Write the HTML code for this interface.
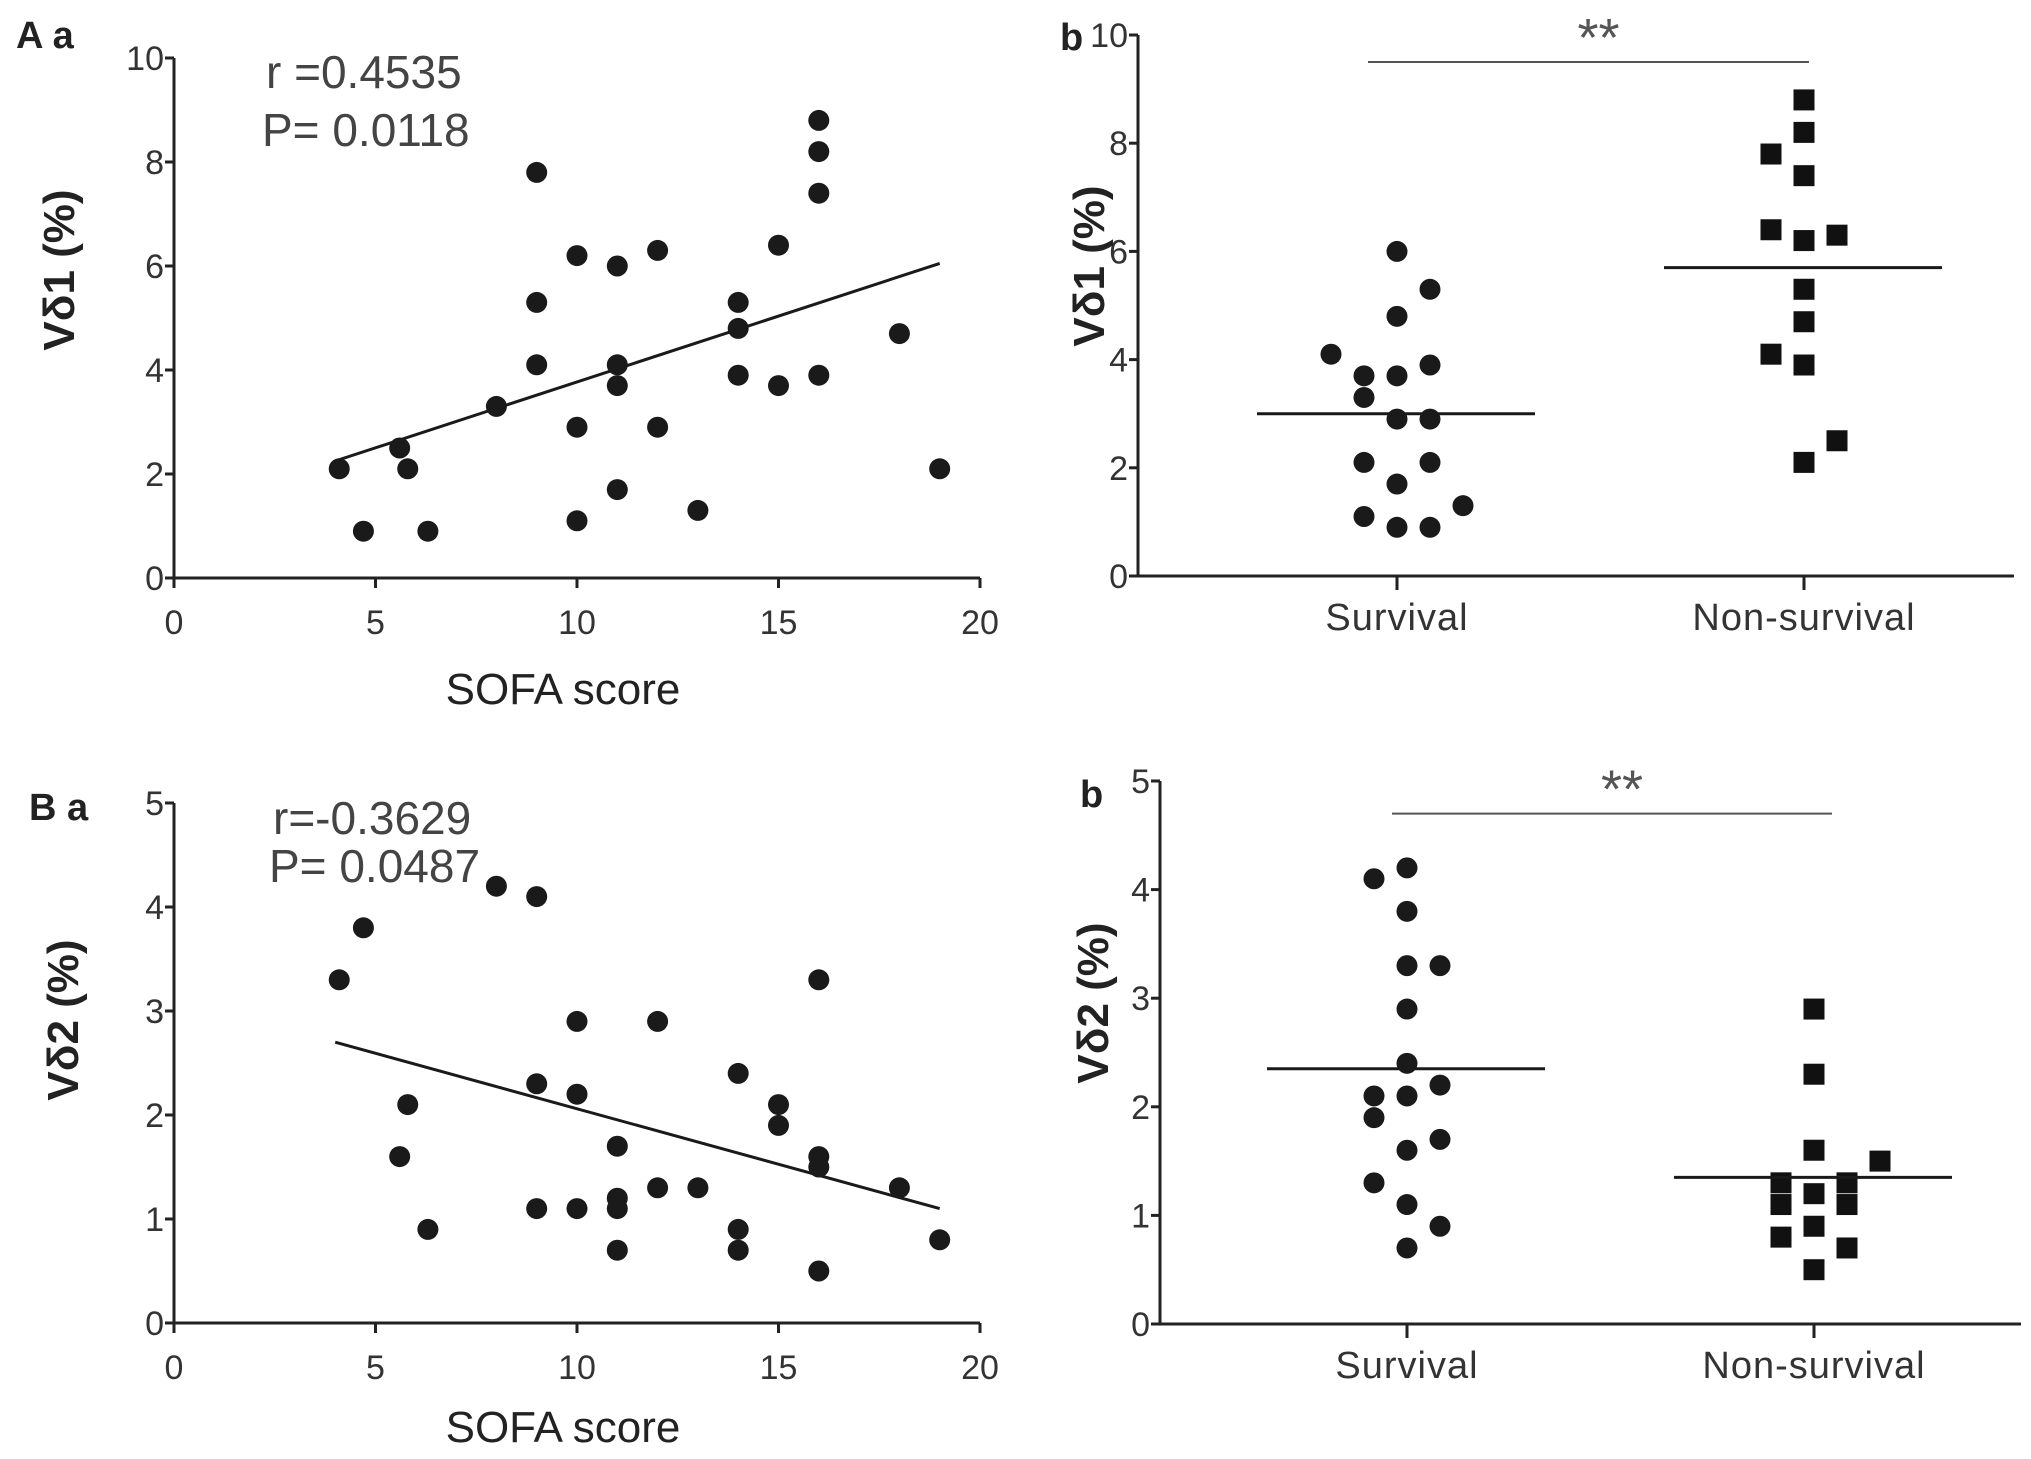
<!DOCTYPE html>
<html><head><meta charset="utf-8"><style>
body{margin:0;background:#fff;}
svg{display:block;font-family:"Liberation Sans",sans-serif;}
.tk{font-size:34px;fill:#333;}
.ck{font-size:38px;fill:#333;letter-spacing:1px;}
.tt{font-size:44px;font-weight:bold;fill:#222;}
.xt{font-size:44px;fill:#222;font-weight:normal;}
.st{font-size:46px;fill:#444;}
.pl{font-size:38px;font-weight:bold;fill:#222;}
</style></head><body>
<svg id="fig" width="2031" height="1459" viewBox="0 0 2031 1459">
<text class="pl" x="16" y="48">A a</text>
<text class="pl" x="1060" y="50">b</text>
<text class="pl" x="29" y="820">B a</text>
<text class="pl" x="1080" y="807">b</text>
<text class="st" x="266" y="88">r =0.4535</text>
<text class="st" x="262" y="146">P= 0.0118</text>
<text class="st" x="273" y="834">r=-0.3629</text>
<text class="st" x="269" y="882">P= 0.0487</text>
</svg>
<script>
// Panel A a data
const aX=[4.1,4.7,5.6,5.8,6.3,8,9,9,9,10,10,10,11,11,11,11,12,12,13,14,14,14,15,15,16,16,16,16,18,19];
const aY=[2.1,0.9,2.5,2.1,0.9,3.3,7.8,5.3,4.1,6.2,2.9,1.1,6.0,4.1,3.7,1.7,6.3,2.9,1.3,5.3,4.8,3.9,6.4,3.7,8.8,8.2,7.4,3.9,4.7,2.1];
const aFit=[[4,2.25],[19,6.05]];
// Panel A b data
const abSurv=[6.0,5.3,4.8,4.1,3.9,3.7,3.7,3.3,2.9,2.9,2.1,2.1,1.7,1.3,1.1,0.9,0.9];
const abSurvOff=[0,1,0,-2,1,-1,0,-1,0,1,-1,1,0,2,-1,0,1];
const abNon=[8.8,8.2,7.8,7.4,6.4,6.2,6.3,5.3,4.7,4.1,3.9,2.5,2.1];
const abNonOff=[0,0,-1,0,-1,0,1,0,0,-1,0,1,0];
const abMed=[3.0,5.7];
// Panel B a data
const bX=[4.1,4.7,5.6,5.8,6.3,8,9,9,9,10,10,10,11,11,11,11,12,12,13,14,14,14,15,15,16,16,16,16,18,19];
const bY=[3.3,3.8,1.6,2.1,0.9,4.2,4.1,2.3,1.1,2.9,2.2,1.1,1.7,1.2,1.1,0.7,2.9,1.3,1.3,2.4,0.9,0.7,2.1,1.9,3.3,1.6,1.5,0.5,1.3,0.8];
const bFit=[[4,2.7],[19,1.1]];
// Panel B b data
const bbSurv=[4.2,4.1,3.8,3.3,3.3,2.9,2.4,2.2,2.1,2.1,1.9,1.7,1.6,1.3,1.1,0.9,0.7];
const bbSurvOff=[0,-1,0,0,1,0,0,1,0,-1,-1,1,0,-1,0,1,0];
const bbNon=[2.9,2.3,1.6,1.5,1.3,1.3,1.2,1.1,1.1,0.9,0.8,0.7,0.5];
const bbNonOff=[0,0,0,2,-1,1,0,-1,1,0,-1,1,0];
const bbMed=[2.35,1.35];
const cats=["Survival","Non-survival"];
const xTicks=[0,5,10,15,20];
const yTicksA=[0,2,4,6,8,10];
const yTicksB=[0,1,2,3,4,5];

const svg=document.getElementById('fig');
const NS='http://www.w3.org/2000/svg';
function mk(tag,attrs,parent){const e=document.createElementNS(NS,tag);for(const k in attrs)e.setAttribute(k,attrs[k]);(parent||svg).appendChild(e);return e;}
function txt(s,attrs){const e=mk('text',attrs);e.textContent=s;return e;}

function yAxis(x0,yb,yt,ymax,ticks,xEnd,title,tx,ty,name){
  const sy=v=>yb-(yb-yt)*v/ymax;
  const ax=mk('line',{x1:x0,y1:yt,x2:x0,y2:yb+1,stroke:'#222','stroke-width':3});
  
  
  const bx=mk('line',{x1:x0-1,y1:yb,x2:xEnd,y2:yb,stroke:'#222','stroke-width':3});
  
  
  ticks.forEach(t=>{
    mk('line',{x1:x0-9,y1:sy(t),x2:x0,y2:sy(t),stroke:'#222','stroke-width':3});
    const l=txt(t,{class:'tk',x:x0-10,y:sy(t)+12,'text-anchor':'end'});
    
    
  });
  const tl=txt(title,{class:'tt',x:0,y:0,'text-anchor':'middle',transform:`translate(${tx},${ty}) rotate(-90)`});
  
  
  return sy;
}

function scatterPanel(X,Y,fit,x0,x1,yb,yt,ymax,yt2,ytitle,tx,ty,xtitleY,name){
  const sy=yAxis(x0,yb,yt,ymax,yt2,x1,ytitle,tx,ty,name);
  const sx=v=>x0+(x1-x0)*v/20;
  xTicks.forEach(t=>{
    mk('line',{x1:sx(t),y1:yb,x2:sx(t),y2:yb+10,stroke:'#222','stroke-width':3});
    const l=txt(t,{class:'tk',x:sx(t),y:yb+56,'text-anchor':'middle'});
    
    
  });
  const xt=txt('SOFA score',{class:'xt',x:(x0+x1)/2-14,y:xtitleY,'text-anchor':'middle'});
  
  
  X.forEach((v,i)=>{
    const c=mk('circle',{cx:sx(v),cy:sy(Y[i]),r:10.5,fill:'#1a1a1a'});
    
    
  });
  const ln=mk('line',{x1:sx(fit[0][0]),y1:sy(fit[0][1]),x2:sx(fit[1][0]),y2:sy(fit[1][1]),stroke:'#1a1a1a','stroke-width':3});
  
  
}

function dotPanel(s,so,n,no,med,x0,xEnd,yb,yt,ymax,ticks,ytitle,tx,ty,c1,c2,sig,sigX1,sigX2,name){
  const sy=yAxis(x0,yb,yt,ymax,ticks,xEnd,ytitle,tx,ty,name);
  const cx=[c1,c2],u=33;
  cats.forEach((c,i)=>{
    mk('line',{x1:cx[i],y1:yb,x2:cx[i],y2:yb+14,stroke:'#222','stroke-width':3});
    const l=txt(c,{class:'ck',x:cx[i],y:yb+54,'text-anchor':'middle'});
    
    
  });
  s.forEach((v,i)=>{
    const c=mk('circle',{cx:c1+so[i]*u,cy:sy(v),r:10.5,fill:'#1a1a1a'});
    
    
  });
  n.forEach((v,i)=>{
    const r=mk('rect',{x:c2+no[i]*u-10.5,y:sy(v)-10.5,width:21,height:21,fill:'#111'});
    
    
  });
  med.forEach((m,i)=>{
    const l=mk('line',{x1:cx[i]-140,y1:sy(m),x2:cx[i]+138,y2:sy(m),stroke:'#1a1a1a','stroke-width':3});
    
    
  });
  const sl=mk('line',{x1:sigX1,y1:sy(sig),x2:sigX2,y2:sy(sig),stroke:'#555','stroke-width':2});
  
  
  const st=txt('**',{x:(sigX1+sigX2)/2+10,y:sy(sig)-6,'text-anchor':'middle','font-size':'54',fill:'#555'});
  
  
}

scatterPanel(aX,aY,aFit,174,980,578,58,10,yTicksA,'Vδ1 (%)',74,270,704,'panel-aa');
dotPanel(abSurv,abSurvOff,abNon,abNonOff,abMed,1138,2014,576,35,10,yTicksA,'Vδ1 (%)',1104,266,1397,1804,9.5,1368,1809,'panel-ab');
scatterPanel(bX,bY,bFit,174,980,1323,803,5,yTicksB,'Vδ2 (%)',78,1020,1442,'panel-ba');
dotPanel(bbSurv,bbSurvOff,bbNon,bbNonOff,bbMed,1160,2021,1324,781,5,yTicksB,'Vδ2 (%)',1108,1003,1407,1814,4.7,1392,1832,'panel-bb');
</script>
</body></html>
